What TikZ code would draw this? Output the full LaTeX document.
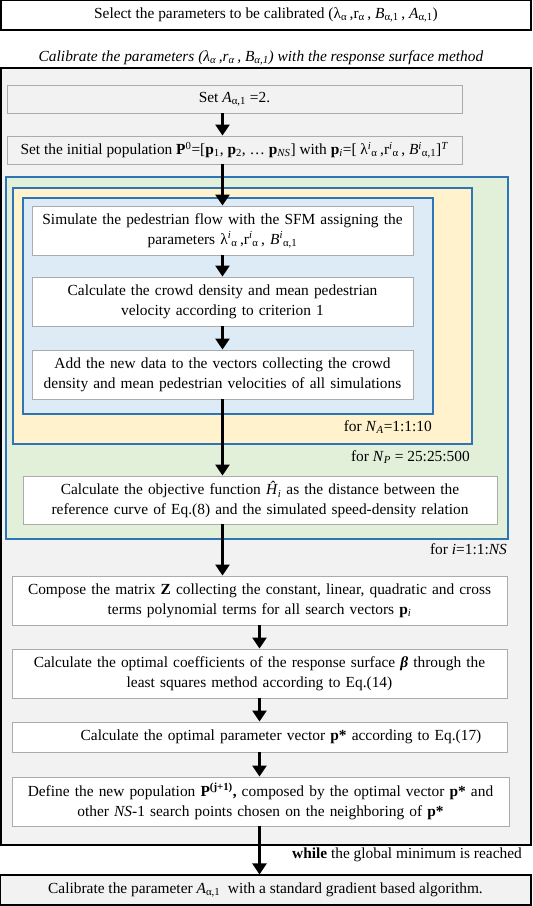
\documentclass[tikz,border=0pt]{standalone}
\usepackage{fontspec}
\setmainfont{Liberation Serif}
\usetikzlibrary{arrows.meta}
\definecolor{bggray}{HTML}{F2F2F2}
\definecolor{bggreen}{HTML}{E2F0D9}
\definecolor{bgyellow}{HTML}{FFF2CC}
\definecolor{bgblue}{HTML}{DDEBF7}
\definecolor{frameblue}{HTML}{2E75B6}
\definecolor{boxgray}{HTML}{ABABAB}
\newcommand{\sa}{\textsubscript{α}}
\newcommand{\sai}{\textsubscript{α,1}}

\begin{document}
\begin{tikzpicture}[x=1pt,y=-1pt,
  txt/.style={font=\fontsize{15.4}{20}\selectfont},
  outerbox/.style={txt,draw=black,line width=1.1pt,inner sep=0pt,align=center},
  setbox/.style={txt,draw=boxgray,fill=bggray,line width=0.9pt,inner sep=0pt,align=center},
  stepbox/.style={txt,draw=boxgray,fill=white,line width=0.9pt,inner sep=0pt,align=center},
  loopframe/.style={draw=frameblue,line width=1.3pt},
  flow/.style={line width=2.4pt,-{Triangle[length=11pt,width=14pt]}}]
\useasboundingbox (0,0) rectangle (533,906);
% top and title
\node[outerbox,fill=white,minimum width=530,minimum height=30] (select) at (266,15)
  {Select the parameters to be calibrated (λ\sa\,,r\sa\,, \textit{B}\sai\,, \textit{A}\sai)};
\node[txt,font=\fontsize{15.4}{20}\selectfont\itshape] (title) at (261,58)
  {Calibrate the parameters (λ\sa\,,r\sa\,, B\sai) with the response surface method};
% containers
\draw[fill=bggray,line width=1.1pt] (1,68) rectangle (531,845);
\draw[loopframe,fill=bggreen] (6,177) rectangle (508,539);
\draw[loopframe,fill=bgyellow] (13,188) rectangle (472,444);
\draw[loopframe,fill=bgblue] (23,198) rectangle (433,414);
% steps
\node[setbox,minimum width=455,minimum height=28] (setA) at (234.5,99)
  {Set \textit{A}\sai\ =2.};
\node[setbox,minimum width=455,minimum height=28] (init) at (234.5,150)
  {Set the initial population \textbf{P}\textsuperscript{0}=[\textbf{p}\textsubscript{1}, \textbf{p}\textsubscript{2}, … \textbf{p}\textsubscript{\textit{NS}}] with \textbf{p}\textsubscript{\textit{i}}=[ λ\textsuperscript{\textit{i}}\sa\,,r\textsuperscript{\textit{i}}\sa\,, \textit{B}\textsuperscript{\textit{i}}\sai]\textsuperscript{\textit{T}}};
\node[stepbox,minimum width=381,minimum height=49,text width=377] (sim) at (222.5,230.5)
  {Simulate the pedestrian flow with the SFM assigning the\\ parameters λ\textsuperscript{\textit{i}}\sa\,,r\textsuperscript{\textit{i}}\sa\,, \textit{B}\textsuperscript{\textit{i}}\sai};
\node[stepbox,minimum width=381,minimum height=49,text width=377] (dens) at (222.5,301.5)
  {Calculate the crowd density and mean pedestrian\\ velocity according to criterion 1};
\node[stepbox,minimum width=381,minimum height=49,text width=377] (add) at (222.5,374.5)
  {Add the new data to the vectors collecting the crowd\\ density and mean pedestrian velocities of all simulations};
\node[txt,anchor=east,inner sep=0pt] (forNA) at (432,427) {for \textit{N}\textsubscript{\textit{A}}=1:1:10};
\node[txt,anchor=east,inner sep=0pt] (forNP) at (470,457) {for \textit{N}\textsubscript{\textit{P}} = 25:25:500};
\node[stepbox,minimum width=474,minimum height=48,text width=468] (obj) at (260,500)
  {Calculate the objective function \textit{Ĥ}\textsubscript{\textit{i}} as the distance between the\\ reference curve of Eq.(8) and the simulated speed-density relation};
\node[txt,anchor=east,inner sep=0pt] (fori) at (507,549) {for \textit{i}=1:1:\textit{NS}};
\node[stepbox,minimum width=495,minimum height=49,text width=491] (comp) at (259.5,600.5)
  {Compose the matrix \textbf{Z} collecting the constant, linear, quadratic and cross\\ terms polynomial terms for all search vectors \textbf{p}\textsubscript{\textit{i}}};
\node[stepbox,minimum width=495,minimum height=49,text width=491] (coef) at (259.5,673.5)
  {Calculate the optimal coefficients of the response surface \textbf{\textit{β}} through the\\ least squares method according to Eq.(14)};
\node[stepbox,minimum width=495,minimum height=30,text width=491] (opt) at (259.5,737)
  {\hspace*{43pt}Calculate the optimal parameter vector \textbf{p*} according to Eq.(17)};
\node[stepbox,minimum width=497,minimum height=49,text width=493] (newpop) at (260.5,801.5)
  {Define the new population \textbf{P}\textsuperscript{\textbf{(j+1)}}\textbf{,} composed by the optimal vector \textbf{p*} and\\ other \textit{NS}-1 search points chosen on the neighboring of \textbf{p*}};
\node[txt,anchor=east,inner sep=0pt] (while) at (522,855) {\textbf{while} the global minimum is reached};
\node[outerbox,fill=bggray,minimum width=531,minimum height=30] (final) at (265.5,890)
  {Calibrate the parameter \textit{A}\sai\ \ with a standard gradient based algorithm.};
% arrows
\draw[flow] (sim.north |- setA.south) -- (sim.north |- init.north);
\draw[flow] (sim.north |- init.south) -- (sim.north);
\draw[flow] (sim.south) -- (dens.north);
\draw[flow] (dens.south) -- (add.north);
\draw[flow] (add.south) -- (add.south |- obj.north);
\draw[flow] (add.south |- obj.south) -- (add.south |- comp.north);
\draw[flow] (comp.south) -- (coef.north);
\draw[flow] (coef.south) -- (opt.north);
\draw[flow] (opt.south) -- (opt.south |- newpop.north);
\draw[flow] (opt.south |- newpop.south) -- (opt.south |- final.north);
\end{tikzpicture}
\end{document}
